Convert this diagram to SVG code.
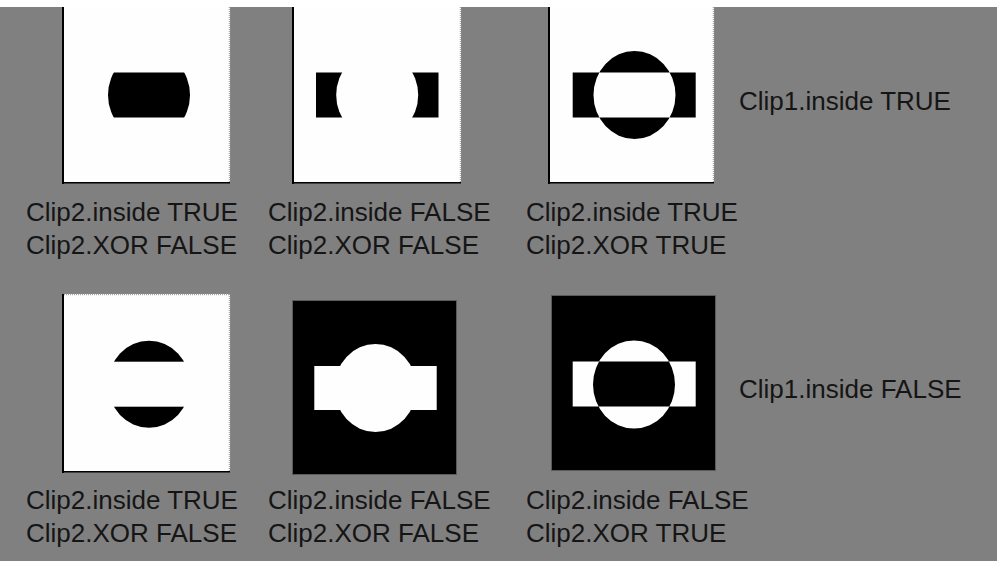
<svg xmlns="http://www.w3.org/2000/svg" width="997" height="561" viewBox="0 0 997 561">
  <style>
    .bg { fill: #808080; }
    .paper { fill: #fefefe; }
    .edge { fill: #000; }
    .dots { stroke: #a8a8a8; stroke-width: 1.5; stroke-dasharray: 1 1; fill: none; }
    .ink { fill: #000; }
    .hole { fill: #fefefe; }
    .frame { fill: #000; stroke: #5a5a5a; stroke-width: 1; }
    .lbl { font-family: "Liberation Sans", Arial, sans-serif; font-size: 26px; fill: #151515; }
  </style>
  <defs>
    <clipPath id="rectTop"><rect x="87.5" y="72.5" width="123" height="45"/></clipPath>
  </defs>
  <rect class="bg" x="0" y="0" width="997" height="561"/>

  <!-- Top row -->
  <g id="panel-true-true-false">
    <rect class="paper" x="64" y="7" width="166" height="175"/>
    <rect class="edge" x="62" y="7" width="2" height="177"/>
    <rect class="edge" x="62" y="182" width="168" height="1.5"/>
    <line class="dots" x1="229.5" y1="7" x2="229.5" y2="182"/>
    <ellipse class="ink" cx="149" cy="95" rx="41" ry="44" clip-path="url(#rectTop)"/>
  </g>

  <g id="panel-true-false-false">
    <rect class="paper" x="294" y="7" width="167" height="175"/>
    <rect class="edge" x="292" y="7" width="2" height="177"/>
    <rect class="edge" x="292" y="182" width="169" height="1.5"/>
    <line class="dots" x1="460.5" y1="7" x2="460.5" y2="182"/>
    <rect class="ink" x="316" y="72.5" width="122.5" height="45"/>
    <ellipse class="hole" cx="377.2" cy="95" rx="41" ry="44"/>
  </g>

  <g id="panel-true-true-true">
    <rect class="paper" x="550" y="7" width="164" height="175"/>
    <rect class="edge" x="548" y="7" width="2" height="177"/>
    <rect class="edge" x="548" y="182" width="166" height="1.5"/>
    <line class="dots" x1="713.5" y1="7" x2="713.5" y2="182"/>
    <path class="ink" fill-rule="evenodd" d="M572.7 72.5 H695.7 V117.5 H572.7 Z M593.5 95 a41 44 0 1 0 82 0 a41 44 0 1 0 -82 0 Z"/>
  </g>

  <!-- Bottom row -->
  <g id="panel-false-true-false">
    <rect class="paper" x="64" y="294" width="166" height="177"/>
    <rect class="edge" x="62" y="294" width="2" height="179"/>
    <rect class="edge" x="62" y="471" width="168" height="1.5"/>
    <line class="dots" x1="64" y1="294.5" x2="230" y2="294.5"/>
    <line class="dots" x1="229.5" y1="294" x2="229.5" y2="471"/>
    <ellipse class="ink" cx="149" cy="384.2" rx="41" ry="43.5"/>
    <rect class="hole" x="100" y="361.7" width="100" height="45"/>
  </g>

  <g id="panel-false-false-false">
    <rect class="frame" x="292.5" y="300.5" width="164" height="174"/>
    <rect class="hole" x="314.3" y="366" width="122.4" height="44"/>
    <ellipse class="hole" cx="375.5" cy="388" rx="41" ry="44"/>
  </g>

  <g id="panel-false-false-true">
    <rect class="frame" x="551.5" y="295.5" width="164" height="175"/>
    <path class="hole" fill-rule="evenodd" d="M572.7 361.5 H695.7 V406.5 H572.7 Z M593 384.5 a41 44 0 1 0 82 0 a41 44 0 1 0 -82 0 Z"/>
  </g>

  <!-- Labels -->
  <g id="labels">
    <text class="lbl" x="26" y="220.7">Clip2.inside TRUE</text>
    <text class="lbl" x="26" y="254">Clip2.XOR FALSE</text>
    <text class="lbl" x="268" y="220.7">Clip2.inside FALSE</text>
    <text class="lbl" x="268" y="254">Clip2.XOR FALSE</text>
    <text class="lbl" x="526" y="220.7">Clip2.inside TRUE</text>
    <text class="lbl" x="526" y="254">Clip2.XOR TRUE</text>
    <text class="lbl" x="739" y="110">Clip1.inside TRUE</text>

    <text class="lbl" x="26" y="509">Clip2.inside TRUE</text>
    <text class="lbl" x="26" y="542">Clip2.XOR FALSE</text>
    <text class="lbl" x="268" y="509">Clip2.inside FALSE</text>
    <text class="lbl" x="268" y="542">Clip2.XOR FALSE</text>
    <text class="lbl" x="526" y="509">Clip2.inside FALSE</text>
    <text class="lbl" x="526" y="542">Clip2.XOR TRUE</text>
    <text class="lbl" x="739" y="398.3">Clip1.inside FALSE</text>
  </g>

  <rect fill="#ffffff" x="0" y="0" width="997" height="7"/>
</svg>
